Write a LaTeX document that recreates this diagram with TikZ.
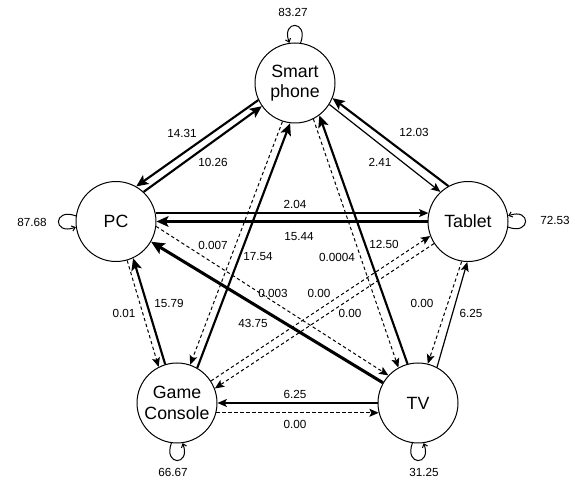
\documentclass[tikz,border=0pt]{standalone}
\usepackage{fontspec}
\setmainfont{Liberation Sans}
\usetikzlibrary{arrows.meta}
\tikzstyle{device} = [circle, draw, line width=0.75pt, minimum size=60pt, inner sep=0pt, align=center, font=\fontsize{13.3}{15.5}\selectfont]
\tikzstyle{weight} = [inner sep=1pt, font=\fontsize{8.8}{10}\selectfont]
\tikzstyle{flowthin} = [-{Stealth[length=7pt,width=6pt,inset=1.5pt]}, line width=0.9pt]
\tikzstyle{flowthick} = [-{Stealth[length=9pt,width=8pt,inset=2pt]}, line width=1.6pt]
\tikzstyle{flowheavy} = [-{Stealth[length=10pt,width=9pt,inset=2pt]}, line width=2.3pt]
\tikzstyle{flowdash} = [-{Stealth[length=7pt,width=6pt,inset=1.5pt]}, line width=0.75pt, dash pattern=on 2.5pt off 2pt]
\tikzstyle{selfloop} = [-{Straight Barb[length=2.5pt,width=4pt]}, line width=0.75pt, looseness=5.6]

\begin{document}
\begin{tikzpicture}[x=0.75pt,y=0.75pt]
	\useasboundingbox (0,0) rectangle (575,481);
	% Devices:
	\node[device] (sp) at (295,398) {Smart\\phone};
	\node[device] (pc) at (116,259.5) {PC};
	\node[device] (tb) at (468,259.5) {Tablet};
	\node[device] (gc) at (177,78) {Game\\Console};
	\node[device] (tv) at (418,78) {TV};

	% Staying on the same device:
	\draw[selfloop] (sp.82) to[out=70,in=110] (sp.98);
	\draw[selfloop] (pc.172) to[out=160,in=200] (pc.188);
	\draw[selfloop] (tb.-8) to[out=-20,in=20] (tb.8);
	\draw[selfloop] (gc.262) to[out=250,in=290] (gc.278);
	\draw[selfloop] (tv.262) to[out=250,in=290] (tv.278);

	% Smart phone <-> PC
	\draw[flowthick] (sp.205) -- (pc.60);
	\draw[flowthick] (pc.47) -- (sp.215);
	% Smart phone <-> Tablet
	\draw[flowthick] (tb.119) -- (sp.338);
	\draw[flowthin] (sp.328) -- (tb.133);
	% PC <-> Tablet
	\draw[flowthin] (pc.12) -- (tb.168);
	\draw[flowthick] (tb.180) -- (pc.0);
	% Smart phone <-> Game Console
	\draw[flowdash] (sp.252) -- (gc.71);
	\draw[flowthick] (gc.60) -- (sp.263);
	% Smart phone <-> TV
	\draw[flowdash] (sp.297) -- (tv.119);
	\draw[flowthick] (tv.105) -- (sp.307);
	% PC <-> Game Console
	\draw[flowdash] (pc.286) -- (gc.117);
	\draw[flowthick] (gc.107) -- (pc.295);
	% PC <-> TV
	\draw[flowdash] (pc.353) -- (tv.137);
	\draw[flowheavy] (tv.150) -- (pc.330);
	% Tablet <-> Game Console
	\draw[flowdash] (gc.33) -- (tb.201);
	\draw[flowdash] (tb.213) -- (gc.21);
	% Tablet <-> TV
	\draw[flowdash] (tb.261) -- (tv.76);
	\draw[flowthin] (tv.62) -- (tb.269);
	% Game Console <-> TV
	\draw[flowthin] (tv.180) -- (gc.0);
	\draw[flowdash] (gc.346) -- (tv.194);

	% Weights:
	\node[weight] (wsp) at (293,469) {83.27};
	\node[weight] (wpc) at (32,259) {87.68};
	\node[weight] (wtb) at (555,261) {72.53};
	\node[weight] (wgc) at (173,9) {66.67};
	\node[weight] (wtv) at (424,9) {31.25};
	\node[weight] (wsppc) at (182,348) {14.31};
	\node[weight] (wpcsp) at (213,319) {10.26};
	\node[weight] (wtbsp) at (414,349) {12.03};
	\node[weight] (wsptb) at (380,319) {2.41};
	\node[weight] (wpctb) at (295,277) {2.04};
	\node[weight] (wtbpc) at (299,244) {15.44};
	\node[weight] (wspgc) at (213,236) {0.007};
	\node[weight] (wgcsp) at (258,224) {17.54};
	\node[weight] (wsptv) at (337,224) {0.0004};
	\node[weight] (wtvsp) at (384,237) {12.50};
	\node[weight] (wpctv) at (273,188) {0.003};
	\node[weight] (wgctb) at (319,188) {0.00};
	\node[weight] (wtbgc) at (350,168) {0.00};
	\node[weight] (wtvpc) at (253,158) {43.75};
	\node[weight] (wgcpc) at (169,178) {15.79};
	\node[weight] (wpcgc) at (124,168) {0.01};
	\node[weight] (wtbtv) at (422,178) {0.00};
	\node[weight] (wtvtb) at (471,168) {6.25};
	\node[weight] (wtvgc) at (295,87) {6.25};
	\node[weight] (wgctv) at (295,57) {0.00};
\end{tikzpicture}
\end{document}
